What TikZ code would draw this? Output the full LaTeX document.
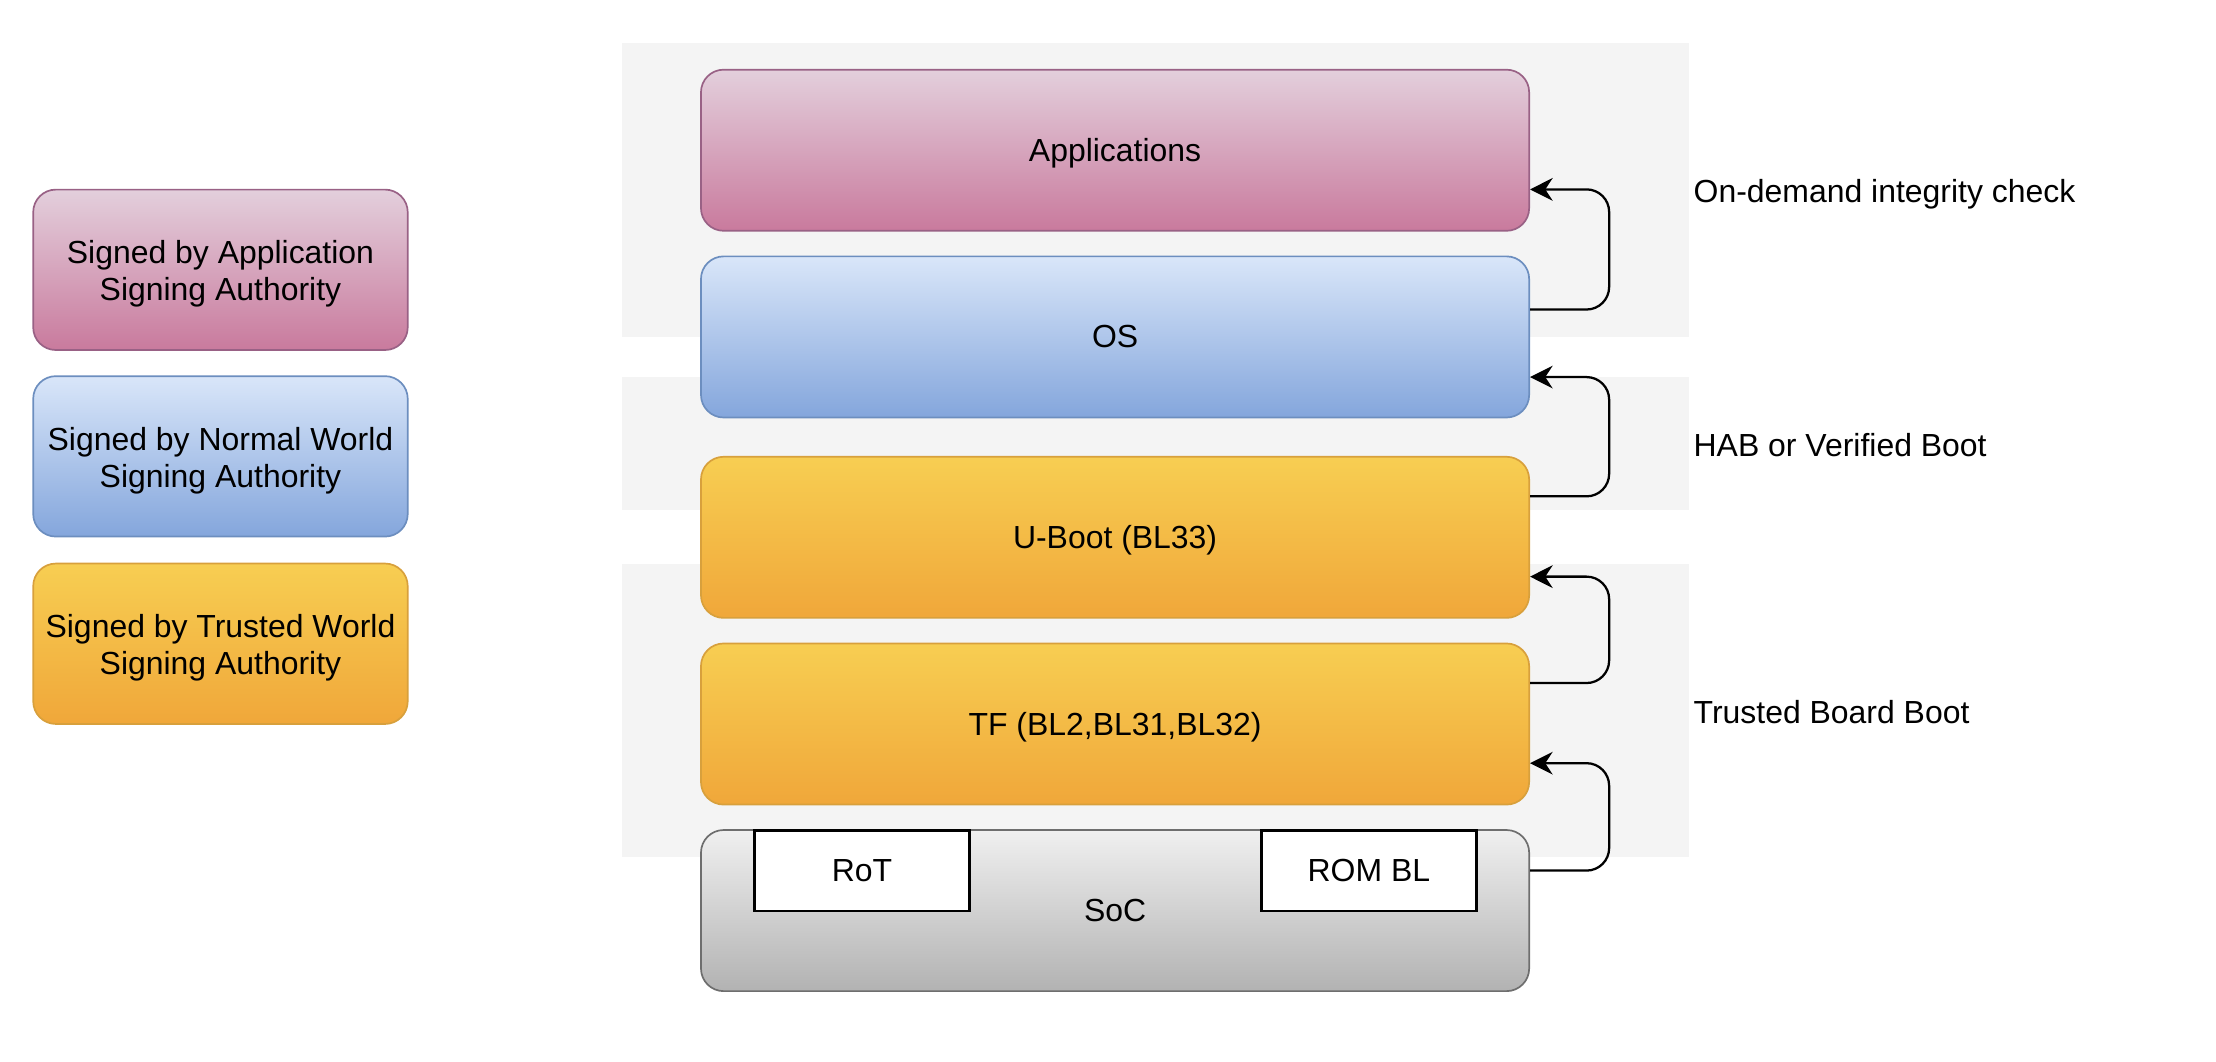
\documentclass[tikz,border=0pt]{standalone}
\usepackage{fontspec}
\setmainfont{Liberation Sans}
\usetikzlibrary{arrows.meta}
\definecolor{bandgray}{HTML}{F4F4F4}
\definecolor{pinkT}{HTML}{E3CFDC}
\definecolor{pinkB}{HTML}{C97A9D}
\definecolor{pinkS}{HTML}{996185}
\definecolor{blueT}{HTML}{D9E6F9}
\definecolor{blueB}{HTML}{84A6DC}
\definecolor{blueS}{HTML}{6C8EBF}
\definecolor{orT}{HTML}{F7CE52}
\definecolor{orB}{HTML}{F0A73A}
\definecolor{orS}{HTML}{D8A03C}
\definecolor{grT}{HTML}{F0F0F0}
\definecolor{grB}{HTML}{B2B2B2}
\definecolor{grS}{HTML}{6E6E6E}
\newcommand{\legstrut}{\rule{0pt}{11.2pt}}
\begin{document}
\begin{tikzpicture}[x=0.5pt,y=-0.5pt,
  font=\fontsize{11.3pt}{13pt}\selectfont,
  band/.style={fill=bandgray, draw=none},
  mainbox/.style={rectangle, rounded corners=8pt, minimum width=293pt, minimum height=57pt,
    inner sep=0pt, line width=0.6pt, text height=10.2pt, text depth=2.4pt},
  legbox/.style={rectangle, rounded corners=8pt, minimum width=132.5pt, minimum height=56.75pt,
    inner sep=0pt, align=center, line width=0.6pt},
  pinkbox/.style={top color=pinkT, bottom color=pinkB, draw=pinkS},
  bluebox/.style={top color=blueT, bottom color=blueB, draw=blueS},
  orbox/.style={top color=orT, bottom color=orB, draw=orS},
  graybox/.style={top color=grT, bottom color=grB, draw=grS},
  chip/.style={rectangle, draw=black, fill=white, line width=0.9pt, minimum width=75.95pt,
    minimum height=28.6pt, inner sep=0pt, text height=10.2pt, text depth=2.4pt},
  arr/.style={draw=black, line width=0.8pt, rounded corners=8pt,
    -{Stealth[length=8pt,width=8pt,inset=2.6pt]}},
  lbl/.style={anchor=base west, inner sep=0pt}]
\useasboundingbox (0,0) rectangle (1568,751);
% background bands
\fill[band] (440,30.7) rectangle (1195,238.4);
\fill[band] (440,266.5) rectangle (1195,361);
\fill[band] (440,399) rectangle (1195,606.5);
% legend
\node[legbox, pinkbox] (legapp) at (156,190.9) {\legstrut Signed by Application\\Signing Authority};
\node[legbox, bluebox] (legnw) at (156,322.9) {\legstrut Signed by Normal World\\Signing Authority};
\node[legbox, orbox] (legtw) at (156,455.5) {\legstrut Signed by Trusted World\\Signing Authority};
% main stack
\node[mainbox, pinkbox] (app) at (789,106.3) {Applications};
\node[mainbox, bluebox] (os) at (789,238.4) {OS};
\node[mainbox, orbox] (ub) at (789,380.2) {U-Boot (BL33)};
\node[mainbox, orbox] (tf) at (789,512.3) {TF (BL2,BL31,BL32)};
\node[mainbox, graybox] (soc) at (789,644.3) {SoC};
\node[chip] (rot) at (609.9,616.1) {RoT};
\node[chip] (rom) at (968.6,616.1) {ROM BL};
% arrows
\draw[arr] ([yshift=9.7pt]os.east) -- ++(28pt,0) |- ([yshift=-13.85pt]app.east);
\draw[arr] ([yshift=14.5pt]ub.east) -- ++(28pt,0) |- ([yshift=-14.2pt]os.east);
\draw[arr] ([yshift=14.5pt]tf.east) -- ++(28pt,0) |- ([yshift=-13.9pt]ub.east);
\draw[arr] ([yshift=14.15pt]soc.east) -- ++(28pt,0) |- ([yshift=-13.85pt]tf.east);
% labels
\node[lbl] (l1) at (1198,143) {On-demand integrity check};
\node[lbl] (l2) at (1198,323) {HAB or Verified Boot};
\node[lbl] (l3) at (1198,512) {Trusted Board Boot};
\end{tikzpicture}
\end{document}
